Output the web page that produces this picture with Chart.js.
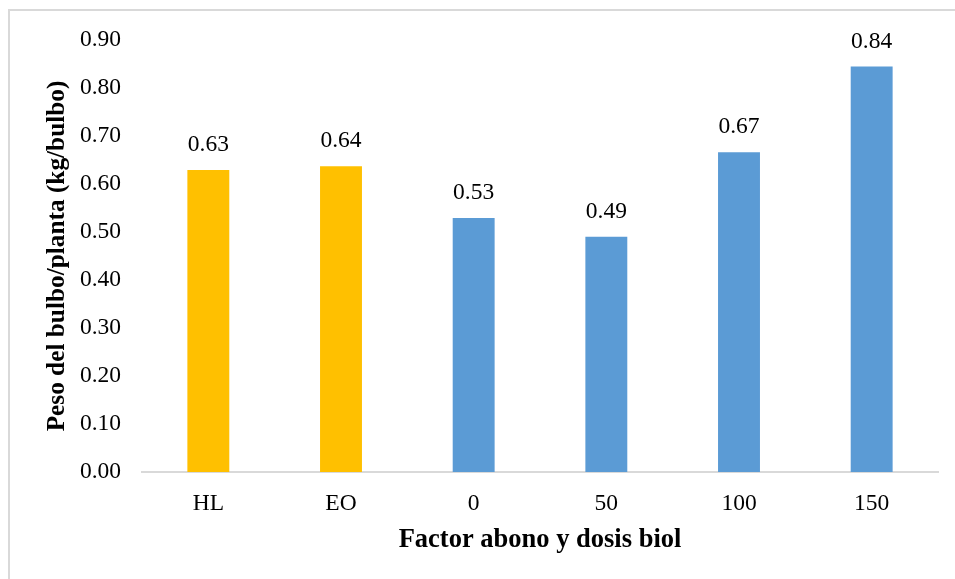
<!DOCTYPE html>
<html>
<head>
<meta charset="utf-8">
<script src="https://cdn.jsdelivr.net/npm/chart.js@4/dist/chart.umd.min.js"></script>
<style>
  html, body { margin: 0; padding: 0; background: #fff; overflow: hidden; }
  #frame { position: absolute; left: 8px; top: 9px; width: 1000px; height: 1000px;
           border: 2px solid #d9d9d9; box-sizing: border-box; }
  #wrap { position: absolute; left: 0; top: 0; width: 955px; height: 579px; }
</style>
</head>
<body>
<div id="frame"></div>
<div id="wrap"><canvas id="chart" width="955" height="579"></canvas></div>
<script>
// ---- data ----
const categories = ["HL", "EO", "0", "50", "100", "150"];
const pesoBulbo  = [0.629, 0.637, 0.529, 0.490, 0.666, 0.845];
const groups     = ["abono", "abono", "biol", "biol", "biol", "biol"];
const yTicks     = [0, 0.1, 0.2, 0.3, 0.4, 0.5, 0.6, 0.7, 0.8, 0.9];
const yTitle     = "Peso del bulbo/planta (kg/bulbo)";
const xTitle     = "Factor abono y dosis biol";

const groupColor = { abono: "#FFC000", biol: "#5B9BD5" };
const FONT = "'Liberation Serif', 'Times New Roman', serif";

// value labels above each bar
const barLabels = {
  id: "barLabels",
  afterDatasetsDraw(chart) {
    const ctx = chart.ctx;
    const meta = chart.getDatasetMeta(0);
    ctx.save();
    ctx.font = `23.5px ${FONT}`;
    ctx.fillStyle = "#000";
    ctx.textAlign = "center";
    ctx.textBaseline = "middle";
    meta.data.forEach((bar, i) => {
      ctx.fillText(pesoBulbo[i].toFixed(2), bar.x, bar.y - 25);
    });
    ctx.restore();
  }
};

new Chart(document.getElementById("chart"), {
  type: "bar",
  data: {
    labels: categories,
    datasets: [{
      data: pesoBulbo,
      backgroundColor: groups.map(g => groupColor[g]),
      barPercentage: 0.316,
      categoryPercentage: 1
    }]
  },
  options: {
    responsive: false,
    animation: false,
    layout: { padding: { left: 42, right: 17, top: 40, bottom: 0 } },
    plugins: { legend: { display: false }, tooltip: { enabled: false } },
    scales: {
      x: {
        grid: { display: false, drawTicks: false },
        border: { display: true, color: "#d9d9d9", width: 2 },
        ticks: { color: "#000", font: { family: FONT, size: 23.5 }, padding: 18 },
        title: {
          display: true, text: xTitle, color: "#000",
          font: { family: FONT, size: 26.5, weight: "bold" }, padding: { top: 0, bottom: 23 }
        },
        afterFit(scale) { scale.height = 107; }
      },
      y: {
        min: 0, max: 0.9,
        afterBuildTicks(scale) { scale.ticks = yTicks.map(v => ({ value: v })); },
        grid: { display: false, drawTicks: false },
        border: { display: false },
        ticks: {
          color: "#000", font: { family: FONT, size: 23.5 }, padding: 21,
          callback: v => Number(v).toFixed(2)
        },
        title: {
          display: true, text: yTitle, color: "#000",
          font: { family: FONT, size: 25.3, weight: "bold" }, padding: 0
        },
        afterFit(scale) { scale.width = 100; }
      }
    }
  },
  plugins: [barLabels]
});
</script>
</body>
</html>
